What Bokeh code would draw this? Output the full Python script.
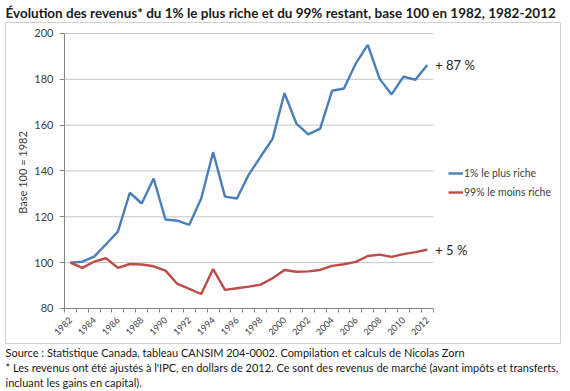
import math
from bokeh.plotting import figure
from bokeh.models import Label, FixedTicker, Legend, LegendItem, Title
from bokeh.embed import file_html
from bokeh.resources import INLINE

# ---- data ----
years = list(range(1982, 2013))
top_1pct = [100, 100.4, 102.6, 108, 113.5, 130.5, 125.8, 136.7, 118.8, 118.3, 116.5,
            128, 148.2, 128.8, 128, 138.4, 146.3, 154, 174, 160.7, 156, 158.5,
            175, 176, 187, 195, 180.2, 173.4, 181.2, 179.8, 186.3]
bottom_99pct = [100, 97.7, 100.4, 101.9, 97.7, 99.4, 99.2, 98.4, 96.5, 90.7, 88.5,
                86.3, 97.2, 88.1, 88.8, 89.5, 90.4, 93.2, 96.8, 96.0, 96.2, 96.8,
                98.6, 99.3, 100.3, 102.9, 103.5, 102.5, 103.7, 104.6, 105.6]
x_label_years = list(range(1982, 2013, 2))
y_ticks = [80, 100, 120, 140, 160, 180, 200]
series_names = ["1% le plus riche", "99% le moins riche"]
end_labels = ["+ 87 %", "+ 5 %"]
title_text = "Évolution des revenus* du 1% le plus riche et du 99% restant, base 100 en 1982, 1982-2012"
y_label = "Base  100 = 1982"
source_lines = [
    "Source : Statistique Canada, tableau CANSIM 204-0002. Compilation et calculs de Nicolas Zorn",
    "* Les revenus ont été ajustés à l'IPC, en dollars de 2012. Ce sont des revenus de marché (avant impôts et transferts,",
    "incluant les gains en capital).",
]

FONT = "Lato"
BLUE = "#4A7EBB"
RED = "#BE4B48"
AXIS = "#868686"
TXT = "#404040"

x_lo, x_hi = years[0] - 0.5, years[-1] + 0.5
y_lo, y_hi = y_ticks[0], y_ticks[-1]

# frame = the chart's bordered box; axes drawn inside it at fixed locations
p = figure(width=570, height=391, x_range=(1976.55, 2023.2), y_range=(64.7, 204.8),
           output_backend="svg", toolbar_location=None,
           min_border_left=5, min_border_right=10, min_border_top=22, min_border_bottom=48)
p.outline_line_color = "#D0D0D0"
p.outline_line_width = 1
p.background_fill_color = "white"
p.border_fill_color = "white"
p.xgrid.visible = False
p.ygrid.visible = False

# horizontal gridlines limited to the plot area
p.segment(x0=[x_lo] * len(y_ticks), x1=[x_hi] * len(y_ticks), y0=y_ticks, y1=y_ticks,
          line_color="#C4C4C4", line_width=1)

# y axis
p.yaxis.fixed_location = x_lo
p.yaxis.bounds = (y_lo, y_hi)
p.yaxis.ticker = FixedTicker(ticks=y_ticks)
p.yaxis.axis_line_color = AXIS
p.yaxis.major_tick_line_color = AXIS
p.yaxis.major_tick_out = 5
p.yaxis.major_tick_in = 0
p.yaxis.minor_tick_line_color = None
p.yaxis.major_label_text_font = FONT
p.yaxis.major_label_text_font_size = "11px"
p.yaxis.major_label_text_color = TXT
p.yaxis.major_label_standoff = 6
p.yaxis.axis_label = y_label
p.yaxis.axis_label_text_font = FONT
p.yaxis.axis_label_text_font_size = "11px"
p.yaxis.axis_label_text_font_style = "normal"
p.yaxis.axis_label_text_color = TXT
p.yaxis.axis_label_standoff = 2

# x axis
bounds = [y - 0.5 for y in years] + [x_hi]
p.xaxis.fixed_location = y_lo
p.xaxis.bounds = (x_lo, x_hi)
p.xaxis.ticker = FixedTicker(ticks=x_label_years, minor_ticks=bounds)
p.xaxis.axis_line_color = AXIS
p.xaxis.major_tick_line_color = None
p.xaxis.minor_tick_line_color = AXIS
p.xaxis.minor_tick_out = 4
p.xaxis.minor_tick_in = 0
p.xaxis.major_label_orientation = math.pi / 4
p.xaxis.major_label_text_font = FONT
p.xaxis.major_label_text_font_size = "9px"
p.xaxis.major_label_text_color = TXT
p.xaxis.major_label_standoff = 4

r1 = p.line(years, top_1pct, line_color=BLUE, line_width=2.4)
r2 = p.line(years, bottom_99pct, line_color=RED, line_width=2.4)

legend = Legend(items=[LegendItem(label=series_names[0], renderers=[r1]),
                       LegendItem(label=series_names[1], renderers=[r2])],
                location=(443, 144), orientation="vertical",
                glyph_width=15, glyph_height=14, label_height=14, label_standoff=1,
                spacing=5, padding=0, margin=0, border_line_color=None,
                background_fill_alpha=0,
                label_text_font=FONT, label_text_font_size="10.5px", label_text_color=TXT)
p.add_layout(legend, "center")

for yv, txt in ((top_1pct[-1], end_labels[0]), (bottom_99pct[-1], end_labels[1])):
    p.add_layout(Label(x=x_hi, y=yv, x_offset=2, text=txt, text_baseline="middle",
                       text_font=FONT, text_font_size="13px", text_color="#262626"))

p.title.text = title_text
p.title.align = "left"
p.title.text_font = FONT
p.title.text_font_size = "13.5px"
p.title.text_font_style = "bold"
p.title.text_color = "#1a1a1a"
p.title.standoff = 3

for line in source_lines:
    p.add_layout(Title(text=line, align="left", text_font=FONT, text_font_size="11px",
                       text_font_style="normal", text_color="#1a1a1a", standoff=0),
                 "below")

open("out.html", "w").write(file_html(p, INLINE))
